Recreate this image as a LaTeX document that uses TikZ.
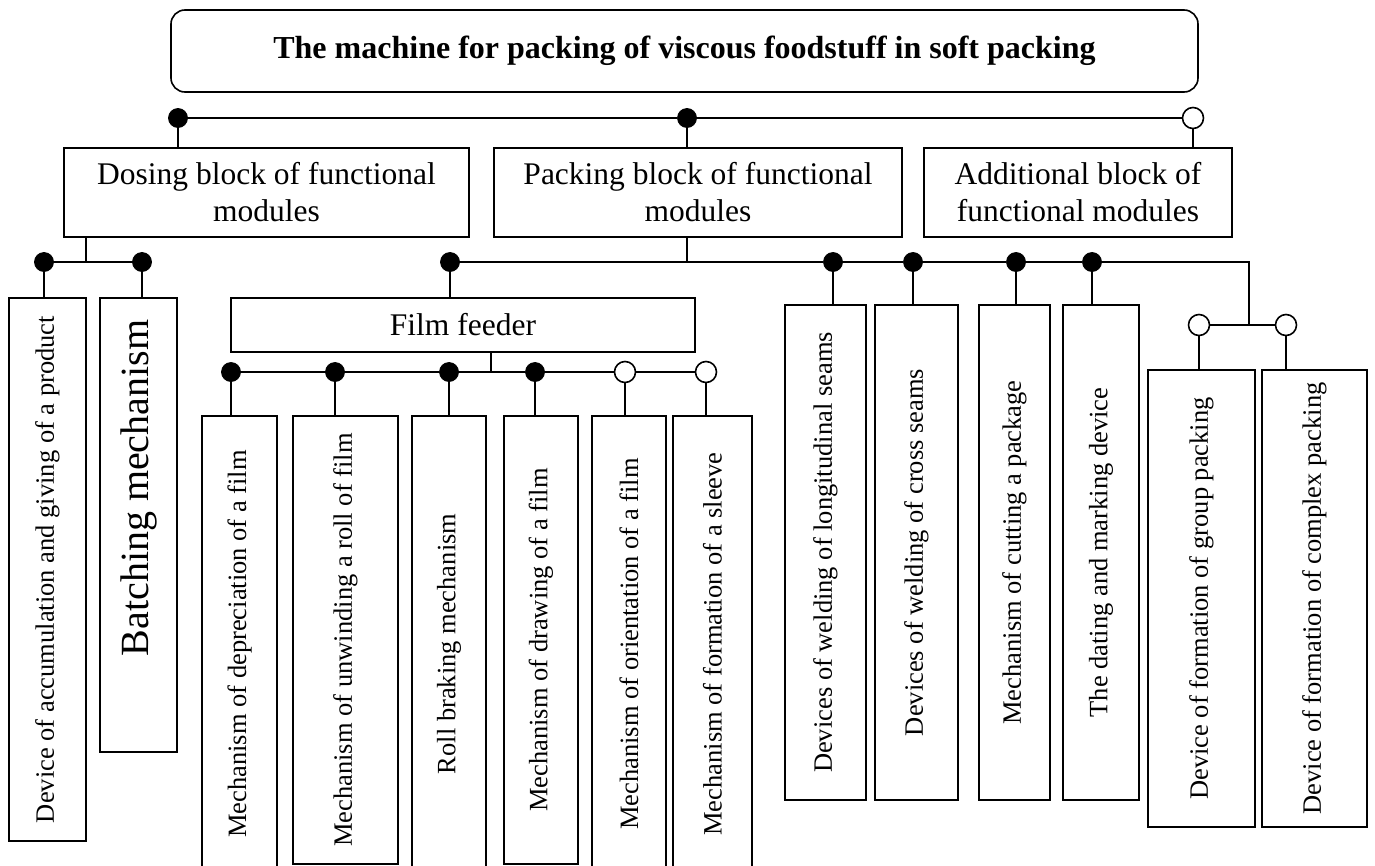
\documentclass[tikz,border=0pt]{standalone}
\usepackage{fontspec}
\setmainfont{Liberation Serif}
\usetikzlibrary{positioning}
\tikzset{
  link/.style={line width=1.6pt},
  unitbox/.style={draw,line width=1.6pt,rectangle,inner sep=0pt,align=center,
    font=\fontsize{31.5}{37}\selectfont},
  subunit/.style={unitbox,rotate=90,font=\fontsize{26.5}{30}\selectfont},
  fulldot/.style={circle,fill=black,draw=black,line width=0.8pt,minimum size=19pt,inner sep=0pt},
  optdot/.style={circle,fill=white,draw=black,line width=1.6pt,minimum size=21pt,inner sep=0pt}
}

\begin{document}
\begin{tikzpicture}[x=1pt,y=-1pt]
\useasboundingbox (0,0) rectangle (1375,865);
\clip (0,0) rectangle (1375,865);

\node[unitbox,rounded corners=14pt,minimum width=1027pt,minimum height=82pt,
  font=\fontsize{32}{38}\selectfont\bfseries] (machine) at (684.5,51)
  {The machine for packing of viscous foodstuff in soft packing};

\node[unitbox,minimum width=405pt,minimum height=89pt] (dosing) at (266.5,192.5)
  {Dosing block of functional\\modules};
\node[unitbox,minimum width=408pt,minimum height=89pt] (packing) at (698,192.5)
  {Packing block of functional\\modules};
\node[unitbox,minimum width=308pt,minimum height=89pt] (additional) at (1078,192.5)
  {Additional block of\\functional modules};

\node[fulldot] (t1) at (178,118) {};
\node[fulldot] (t2) at (687,118) {};
\node[optdot] (t3) at (1193,118) {};
\draw[link] (t1) -- (t2) -- (t3);
\draw[link] (t1) -- (t1 |- dosing.north);
\draw[link] (t2) -- (t2 |- packing.north);
\draw[link] (t3) -- (t3 |- additional.north);

% dosing block
\node[subunit,minimum width=543pt,minimum height=77pt] (accum) at (47.5,569.5)
  {Device of accumulation and giving of a product};
\node[subunit,minimum width=454pt,minimum height=77pt,font=\fontsize{40}{48}\selectfont]
  (batching) at (138.5,525) {\hspace*{74pt}Batching mechanism};
\node[fulldot] (d1) at (44,262) {};
\node[fulldot] (d2) at (142,262) {};
\coordinate (djoin) at (86,262);
\draw[link] (d1) -- (d2);
\draw[link] (djoin |- dosing.south) -- (djoin);
\draw[link] (d1) -- (d1 |- accum.east);
\draw[link] (d2) -- (d2 |- batching.east);

% packing block
\node[fulldot] (p1) at (450,262) {};
\node[fulldot] (p2) at (833,262) {};
\node[fulldot] (p3) at (913,262) {};
\node[fulldot] (p4) at (1016,262) {};
\node[fulldot] (p5) at (1092,262) {};
\node[optdot] (o1) at (1199,325) {};
\node[optdot] (o2) at (1286,325) {};
\coordinate (pjoin) at (687,262);
\coordinate (pbend) at (1249,262);
\draw[link] (pjoin |- packing.south) -- (pjoin);
\draw[link] (p1) -- (p2) -- (p3) -- (p4) -- (p5) -- (pbend) -- (pbend |- o1);
\draw[link] (o1) -- (o2);

\node[unitbox,minimum width=464pt,minimum height=54pt] (feeder) at (463,325) {Film feeder};
\draw[link] (p1) -- (p1 |- feeder.north);

\node[subunit,minimum width=495pt,minimum height=81pt] (longseam) at (825.5,552.5)
  {Devices of welding of longitudinal seams};
\node[subunit,minimum width=495pt,minimum height=83pt] (crossseam) at (916.5,552.5)
  {Devices of welding of cross seams};
\node[subunit,minimum width=495pt,minimum height=71pt] (cutting) at (1014.5,552.5)
  {Mechanism of cutting a package};
\node[subunit,minimum width=495pt,minimum height=76pt] (dating) at (1101,552.5)
  {The dating and marking device};
\node[subunit,minimum width=457pt,minimum height=107pt] (group) at (1201.5,598.5)
  {Device of formation of group packing};
\node[subunit,minimum width=457pt,minimum height=105pt] (complex) at (1314.5,598.5)
  {Device of formation of complex packing};
\draw[link] (p2) -- (p2 |- longseam.east);
\draw[link] (p3) -- (p3 |- crossseam.east);
\draw[link] (p4) -- (p4 |- cutting.east);
\draw[link] (p5) -- (p5 |- dating.east);
\draw[link] (o1) -- (o1 |- group.east);
\draw[link] (o2) -- (o2 |- complex.east);

% film feeder
\node[fulldot] (f1) at (231,372) {};
\node[fulldot] (f2) at (335,372) {};
\node[fulldot] (f3) at (449,372) {};
\node[fulldot] (f4) at (535,372) {};
\node[optdot] (f5) at (625,372) {};
\node[optdot] (f6) at (706,372) {};
\coordinate (fjoin) at (491,372);
\draw[link] (fjoin |- feeder.south) -- (fjoin);
\draw[link] (f1) -- (f2) -- (f3) -- (f4) -- (f5) -- (f6);

\node[subunit,minimum width=456pt,minimum height=75pt] (depreciation) at (239.5,644)
  {Mechanism of depreciation of a film};
\node[subunit,minimum width=448pt,minimum height=105pt] (unwinding) at (345.5,640)
  {Mechanism of unwinding a roll of film};
\node[subunit,minimum width=456pt,minimum height=74pt] (braking) at (449,644)
  {Roll braking mechanism};
\node[subunit,minimum width=448pt,minimum height=74pt] (drawing) at (541,640)
  {Mechanism of drawing of a film};
\node[subunit,minimum width=456pt,minimum height=74pt] (orientation) at (629,644)
  {Mechanism of orientation of a film};
\node[subunit,minimum width=456pt,minimum height=79pt] (sleeve) at (712.5,644)
  {Mechanism of formation of a sleeve};
\draw[link] (f1) -- (f1 |- depreciation.east);
\draw[link] (f2) -- (f2 |- unwinding.east);
\draw[link] (f3) -- (f3 |- braking.east);
\draw[link] (f4) -- (f4 |- drawing.east);
\draw[link] (f5) -- (f5 |- orientation.east);
\draw[link] (f6) -- (f6 |- sleeve.east);
\end{tikzpicture}
\end{document}
